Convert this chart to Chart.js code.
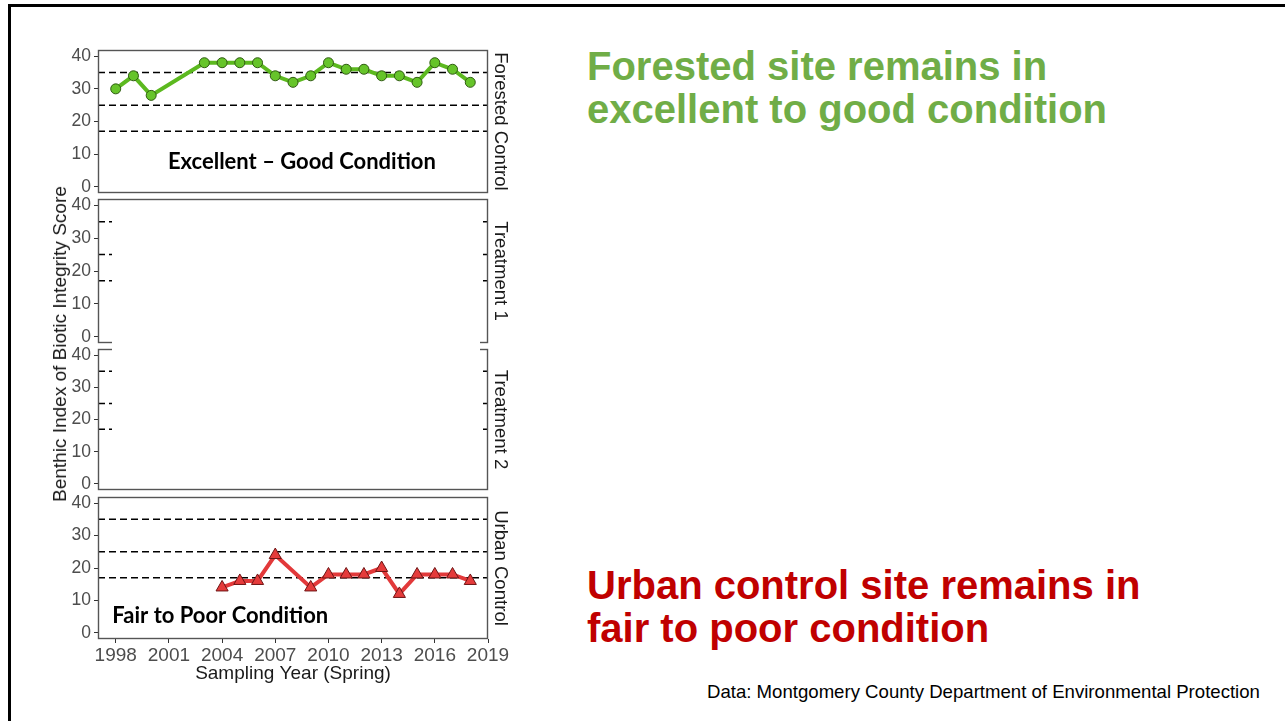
<!DOCTYPE html>
<html>
<head>
<meta charset="utf-8">
<script src="https://cdn.jsdelivr.net/npm/chart.js@4"></script>
<style>
  html, body { margin: 0; padding: 0; background: #fff; }
  body { width: 1285px; height: 721px; position: relative; overflow: hidden;
         font-family: 'Liberation Sans', Arial, sans-serif; }
  .frame { position: absolute; left: 8px; top: 4px; width: 1300px; height: 740px;
           border-top: 3px solid #000; border-left: 3px solid #000; }
  canvas { position: absolute; left: 0; }
  .cover { position: absolute; left: 112px; top: 201px; width: 368px; height: 287px; background: #fff; z-index: 5; }
  .ytitle { position: absolute; left: 60px; top: 344px; transform: translate(-50%, -50%) rotate(-90deg);
            white-space: nowrap; font-size: 19px; color: #1a1a1a; }
  .headline { position: absolute; left: 587px; font-weight: bold; font-size: 40px; line-height: 43px; white-space: nowrap; }
  .green { color: #70ad47; top: 45px; }
  .red { color: #c00000; top: 564px; }
  .source { position: absolute; left: 707px; top: 681px; font-size: 18.6px; color: #000; white-space: nowrap; }
</style>
</head>
<body>
<div class="frame"></div>

<canvas id="pForest" width="520" height="175"></canvas>
<canvas id="pT1" width="520" height="176"></canvas>
<canvas id="pT2" width="520" height="173"></canvas>
<canvas id="pUrban" width="520" height="206"></canvas>
<div class="cover"></div>

<div class="ytitle">Benthic Index of Biotic Integrity Score</div>

<div class="headline green">Forested site remains in<br>excellent to good condition</div>
<div class="headline red">Urban control site remains in<br>fair to poor condition</div>
<div class="source">Data: Montgomery County Department of Environmental Protection</div>

<script>
// ---- data ----
const forestedYears  = [1998, 1999, 2000, 2003, 2004, 2005, 2006, 2007, 2008, 2009, 2010, 2011, 2012, 2013, 2014, 2015, 2016, 2017, 2018];
const forestedScores = [30, 34, 28, 38, 38, 38, 38, 34, 32, 34, 38, 36, 36, 34, 34, 32, 38, 36, 32];

const urbanYears  = [2004, 2005, 2006, 2007, 2009, 2010, 2011, 2012, 2013, 2014, 2015, 2016, 2017, 2018];
const urbanScores = [14, 16, 16, 24, 14, 18, 18, 18, 20, 12, 18, 18, 18, 16];

// condition class boundaries (BIBI score)
const thresholds = [35, 25, 17];

const xTickYears  = [1998, 2001, 2004, 2007, 2010, 2013, 2016, 2019];
const yTickValues = [0, 10, 20, 30, 40];
const xRange = [1997, 2019];
const yRange = [-1.9, 41.9];

Chart.defaults.font.family = "'Liberation Sans', Arial, sans-serif";
Chart.defaults.animation = false;

const toPoints = (xs, ys) => xs.map((x, i) => ({ x: x, y: ys[i] }));

// panel box + strip label + optional in-panel caption
const panelDecor = {
  id: 'panelDecor',
  afterDraw(chart, args, opts) {
    const { ctx, chartArea: a } = chart;
    ctx.save();
    ctx.strokeStyle = '#555';
    ctx.lineWidth = 1.4;
    ctx.strokeRect(a.left + 0.5, a.top + 0.5, a.right - a.left - 1, a.bottom - a.top - 1);

    ctx.translate(a.right + 12, (a.top + a.bottom) / 2);
    ctx.rotate(Math.PI / 2);
    ctx.font = "18.6px 'Liberation Sans', Arial, sans-serif";
    ctx.fillStyle = '#1a1a1a';
    ctx.textAlign = 'center';
    ctx.textBaseline = 'middle';
    ctx.fillText(opts.strip, 0, 0);
    ctx.restore();

    if (opts.caption) {
      const c = opts.caption;
      ctx.save();
      ctx.font = "bold 22px Lato, 'Open Sans', sans-serif";
      ctx.fillStyle = '#000';
      ctx.textAlign = c.align;
      ctx.textBaseline = 'middle';
      ctx.fillText(c.text, chart.scales.x.getPixelForValue(c.x), chart.scales.y.getPixelForValue(c.y));
      ctx.restore();
    }
  }
};

function thresholdSets() {
  return thresholds.map(t => ({
    data: [{ x: xRange[0], y: t }, { x: xRange[1], y: t }],
    borderColor: '#000',
    borderWidth: 1.5,
    borderDash: [7, 4],
    pointRadius: 0,
    order: 5
  }));
}

function makePanel(canvasId, top, height, strip, series, caption, showX) {
  const cv = document.getElementById(canvasId);
  const padTop = 16;
  const axisH = showX ? 46 : 0;
  const padBottom = showX ? 4 : 16;
  cv.style.top = (top - padTop) + 'px';
  cv.height = padTop + height + axisH + padBottom;

  const datasets = thresholdSets();
  if (series) datasets.push(series);

  return new Chart(cv, {
    type: 'line',
    data: { datasets: datasets },
    options: {
      responsive: false,
      layout: { padding: { left: 0, right: 32, top: padTop, bottom: padBottom } },
      plugins: {
        legend: { display: false },
        tooltip: { enabled: false },
        panelDecor: { strip: strip, caption: caption }
      },
      scales: {
        x: {
          type: 'linear',
          display: showX,
          min: xRange[0], max: xRange[1],
          afterBuildTicks: s => { s.ticks = xTickYears.map(v => ({ value: v })); },
          afterFit: s => { s.height = axisH; },
          grid: { drawOnChartArea: false, drawTicks: true, tickLength: 4, tickColor: '#333' },
          border: { display: false },
          ticks: { color: '#4d4d4d', font: { size: 19 }, padding: 1, maxRotation: 0,
                   callback: v => String(v) },
          title: { display: showX, text: 'Sampling Year (Spring)', color: '#1a1a1a',
                   font: { size: 19 }, padding: { top: 0, bottom: 0 } }
        },
        y: {
          type: 'linear',
          min: yRange[0], max: yRange[1],
          afterBuildTicks: s => { s.ticks = yTickValues.map(v => ({ value: v })); },
          afterFit: s => { s.width = 98; },
          grid: { drawOnChartArea: false, drawTicks: true, tickLength: 4, tickColor: '#333' },
          border: { display: false },
          ticks: { color: '#4d4d4d', font: { size: 17.5 }, padding: 3 }
        }
      }
    },
    plugins: [panelDecor]
  });
}

makePanel('pForest', 50, 143, 'Forested Control', {
  data: toPoints(forestedYears, forestedScores),
  borderColor: '#5cb91f',
  borderWidth: 4,
  pointStyle: 'circle',
  pointRadius: 5,
  pointBackgroundColor: '#66c42a',
  pointBorderColor: '#2f5a12',
  pointBorderWidth: 1,
  order: 1
}, { text: 'Excellent \u2013 Good Condition', x: 2008.5, y: 7.6, align: 'center' }, false);

makePanel('pT1', 199, 144, 'Treatment 1', null, null, false);
makePanel('pT2', 349, 141, 'Treatment 2', null, null, false);

makePanel('pUrban', 497, 142, 'Urban Control', {
  data: toPoints(urbanYears, urbanScores),
  borderColor: '#e2393a',
  borderWidth: 4,
  pointStyle: 'triangle',
  pointRadius: 7,
  pointBackgroundColor: '#e53b3b',
  pointBorderColor: '#6e1414',
  pointBorderWidth: 1,
  order: 1
}, { text: 'Fair to Poor Condition', x: 2003.9, y: 5.3, align: 'center' }, true);
</script>
</body>
</html>
